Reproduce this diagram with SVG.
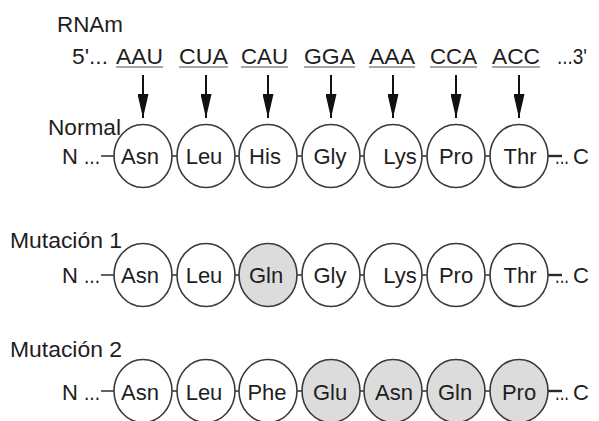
<svg xmlns="http://www.w3.org/2000/svg" width="599" height="421" viewBox="0 0 599 421">
  <defs>
    <style>
      text { font-family: "Liberation Sans", Arial, sans-serif; font-size: 22px; fill: #1e1e1e; }
      .aa { text-anchor: middle; }
      .res { fill: #ffffff; stroke: #3a3a3a; stroke-width: 1.6; }
      .mut { fill: #dcdcdc; }
      .bond { stroke: #3a3a3a; stroke-width: 1.6; fill: none; }
      .end { stroke: #2a2a2a; stroke-width: 2.4; fill: none; }
      .uline { stroke: #8a8a8a; stroke-width: 1.6; }
      .arrow { stroke: #111111; stroke-width: 2; marker-end: url(#head); }
    </style>
    <marker id="head" viewBox="0 0 24 11" refX="24" refY="5.5" markerWidth="24" markerHeight="11" markerUnits="userSpaceOnUse" orient="auto">
      <path d="M0,0 L24,5.5 L0,11 z" fill="#111111"/>
    </marker>
  </defs>
  <rect width="599" height="421" fill="#ffffff"/>

  <!-- mRNA strand -->
  <g id="mrna">
    <text x="57" y="32" textLength="66" lengthAdjust="spacingAndGlyphs">RNAm</text>
    <text x="72" y="64" textLength="36" lengthAdjust="spacingAndGlyphs">5'...</text>
    <text x="116" y="64" textLength="47" lengthAdjust="spacingAndGlyphs">AAU</text>
    <text x="179" y="64" textLength="49" lengthAdjust="spacingAndGlyphs">CUA</text>
    <text x="241" y="64" textLength="47" lengthAdjust="spacingAndGlyphs">CAU</text>
    <text x="304" y="64" textLength="51" lengthAdjust="spacingAndGlyphs">GGA</text>
    <text x="369" y="64" textLength="46" lengthAdjust="spacingAndGlyphs">AAA</text>
    <text x="430" y="64" textLength="47" lengthAdjust="spacingAndGlyphs">CCA</text>
    <text x="492" y="64" textLength="48" lengthAdjust="spacingAndGlyphs">ACC</text>
    <text x="557" y="64" textLength="30" lengthAdjust="spacingAndGlyphs">...3'</text>
    <line class="uline" x1="116" y1="67" x2="163" y2="67"/>
    <line class="uline" x1="179" y1="67" x2="228" y2="67"/>
    <line class="uline" x1="241" y1="67" x2="288" y2="67"/>
    <line class="uline" x1="304" y1="67" x2="355" y2="67"/>
    <line class="uline" x1="369" y1="67" x2="415" y2="67"/>
    <line class="uline" x1="430" y1="67" x2="477" y2="67"/>
    <line class="uline" x1="492" y1="67" x2="540" y2="67"/>
  </g>

  <!-- row labels and chain ends -->
  <g id="labels">
    <text x="48" y="135" textLength="73" lengthAdjust="spacingAndGlyphs">Normal</text>
    <text x="10" y="248" textLength="112" lengthAdjust="spacingAndGlyphs">Mutación 1</text>
    <text x="10" y="357" textLength="112" lengthAdjust="spacingAndGlyphs">Mutación 2</text>
    <text x="62" y="164">N</text>
    <text x="84" y="164" textLength="16" lengthAdjust="spacingAndGlyphs">...</text>
    <text x="62" y="283">N</text>
    <text x="84" y="283" textLength="16" lengthAdjust="spacingAndGlyphs">...</text>
    <text x="62" y="400">N</text>
    <text x="84" y="400" textLength="16" lengthAdjust="spacingAndGlyphs">...</text>
    <text x="555" y="164" textLength="14" lengthAdjust="spacingAndGlyphs">...</text>
    <text x="573" y="164">C</text>
    <text x="555" y="283" textLength="14" lengthAdjust="spacingAndGlyphs">...</text>
    <text x="573" y="283">C</text>
    <text x="555" y="400" textLength="14" lengthAdjust="spacingAndGlyphs">...</text>
    <text x="573" y="400">C</text>
  </g>

  <!-- connectors: codon arrows, peptide bonds, chain ends -->
  <g id="connectors">
    <line class="arrow" x1="143" y1="75" x2="143" y2="118"/>
    <line class="arrow" x1="206" y1="75" x2="206" y2="118"/>
    <line class="arrow" x1="268" y1="75" x2="268" y2="118"/>
    <line class="arrow" x1="331" y1="75" x2="331" y2="118"/>
    <line class="arrow" x1="393" y1="75" x2="393" y2="118"/>
    <line class="arrow" x1="456" y1="75" x2="456" y2="118"/>
    <line class="arrow" x1="519" y1="75" x2="519" y2="118"/>
    <g id="bonds-normal">
      <line class="bond" x1="101" y1="156" x2="115" y2="156"/>
      <line class="bond" x1="171" y1="156" x2="178" y2="156"/>
      <line class="bond" x1="234" y1="156" x2="240" y2="156"/>
      <line class="bond" x1="296" y1="156" x2="303" y2="156"/>
      <line class="bond" x1="359" y1="156" x2="365" y2="156"/>
      <line class="bond" x1="421" y1="156" x2="428" y2="156"/>
      <line class="bond" x1="484" y1="156" x2="491" y2="156"/>
      <line class="end" x1="548" y1="156" x2="562" y2="156"/>
    </g>
    <g id="bonds-mut1">
      <line class="bond" x1="101" y1="275" x2="115" y2="275"/>
      <line class="bond" x1="171" y1="275" x2="178" y2="275"/>
      <line class="bond" x1="234" y1="275" x2="240" y2="275"/>
      <line class="bond" x1="296" y1="275" x2="303" y2="275"/>
      <line class="bond" x1="359" y1="275" x2="365" y2="275"/>
      <line class="bond" x1="421" y1="275" x2="428" y2="275"/>
      <line class="bond" x1="484" y1="275" x2="491" y2="275"/>
      <line class="end" x1="548" y1="275" x2="562" y2="275"/>
    </g>
    <g id="bonds-mut2">
      <line class="bond" x1="101" y1="391" x2="115" y2="391"/>
      <line class="bond" x1="171" y1="391" x2="178" y2="391"/>
      <line class="bond" x1="234" y1="391" x2="240" y2="391"/>
      <line class="bond" x1="296" y1="391" x2="303" y2="391"/>
      <line class="bond" x1="359" y1="391" x2="365" y2="391"/>
      <line class="bond" x1="421" y1="391" x2="428" y2="391"/>
      <line class="bond" x1="484" y1="391" x2="491" y2="391"/>
      <line class="end" x1="548" y1="391" x2="562" y2="391"/>
    </g>
  </g>

  <!-- normal peptide -->
  <g id="n-asn"><ellipse class="res" cx="143" cy="156" rx="29" ry="31.5"/><text class="aa" x="140" y="164">Asn</text></g>
  <g id="n-leu"><ellipse class="res" cx="206" cy="156" rx="29" ry="31.5"/><text class="aa" x="204" y="164">Leu</text></g>
  <g id="n-his"><ellipse class="res" cx="268" cy="156" rx="29" ry="31.5"/><text class="aa" x="265" y="164">His</text></g>
  <g id="n-gly"><ellipse class="res" cx="331" cy="156" rx="29" ry="31.5"/><text class="aa" x="330" y="164">Gly</text></g>
  <g id="n-lys"><ellipse class="res" cx="393" cy="156" rx="29" ry="31.5"/><text class="aa" x="400" y="164">Lys</text></g>
  <g id="n-pro"><ellipse class="res" cx="456" cy="156" rx="29" ry="31.5"/><text class="aa" x="456" y="164">Pro</text></g>
  <g id="n-thr"><ellipse class="res" cx="519" cy="156" rx="29" ry="31.5"/><text class="aa" x="520" y="164">Thr</text></g>

  <!-- mutation 1 peptide -->
  <g id="m1-asn"><ellipse class="res" cx="143" cy="275" rx="29" ry="31.5"/><text class="aa" x="140" y="283">Asn</text></g>
  <g id="m1-leu"><ellipse class="res" cx="206" cy="275" rx="29" ry="31.5"/><text class="aa" x="204" y="283">Leu</text></g>
  <g id="m1-gln"><ellipse class="res mut" cx="268" cy="275" rx="29" ry="31.5"/><text class="aa" x="266" y="283">Gln</text></g>
  <g id="m1-gly"><ellipse class="res" cx="331" cy="275" rx="29" ry="31.5"/><text class="aa" x="330" y="283">Gly</text></g>
  <g id="m1-lys"><ellipse class="res" cx="393" cy="275" rx="29" ry="31.5"/><text class="aa" x="400" y="283">Lys</text></g>
  <g id="m1-pro"><ellipse class="res" cx="456" cy="275" rx="29" ry="31.5"/><text class="aa" x="456" y="283">Pro</text></g>
  <g id="m1-thr"><ellipse class="res" cx="519" cy="275" rx="29" ry="31.5"/><text class="aa" x="520" y="283">Thr</text></g>

  <!-- mutation 2 peptide -->
  <g id="m2-asn"><ellipse class="res" cx="143" cy="391" rx="29" ry="31.5"/><text class="aa" x="140" y="400">Asn</text></g>
  <g id="m2-leu"><ellipse class="res" cx="206" cy="391" rx="29" ry="31.5"/><text class="aa" x="204" y="400">Leu</text></g>
  <g id="m2-phe"><ellipse class="res" cx="268" cy="391" rx="29" ry="31.5"/><text class="aa" x="267" y="400">Phe</text></g>
  <g id="m2-glu"><ellipse class="res mut" cx="331" cy="391" rx="29" ry="31.5"/><text class="aa" x="330" y="400">Glu</text></g>
  <g id="m2-asn2"><ellipse class="res mut" cx="393" cy="391" rx="29" ry="31.5"/><text class="aa" x="394" y="400">Asn</text></g>
  <g id="m2-gln"><ellipse class="res mut" cx="456" cy="391" rx="29" ry="31.5"/><text class="aa" x="455" y="400">Gln</text></g>
  <g id="m2-pro"><ellipse class="res mut" cx="519" cy="391" rx="29" ry="31.5"/><text class="aa" x="519" y="400">Pro</text></g>
</svg>
